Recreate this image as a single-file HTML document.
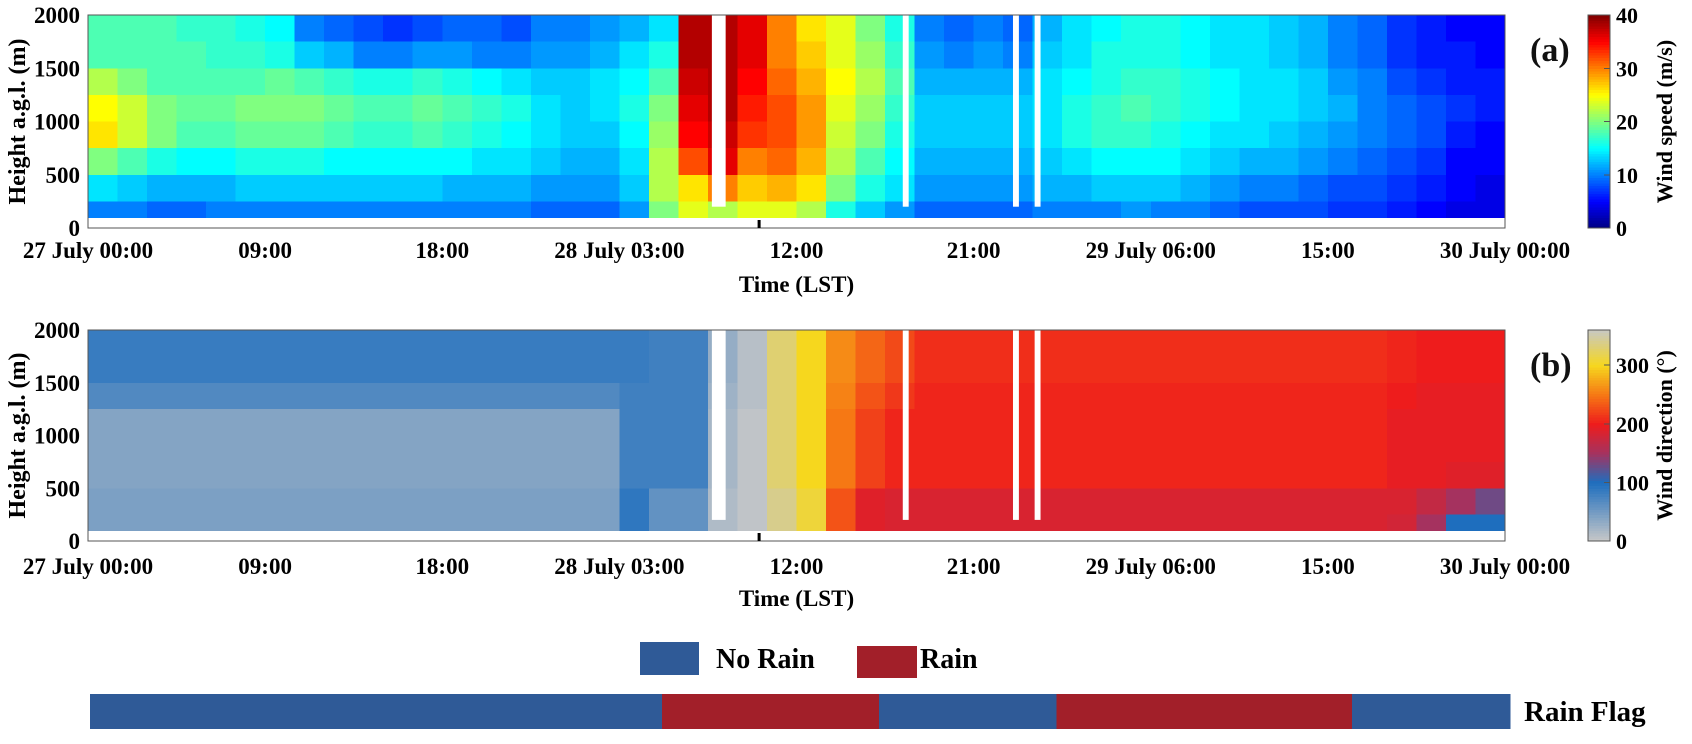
<!DOCTYPE html>
<html><head><meta charset="utf-8"><style>
body{margin:0;background:#fff;}
svg{display:block;font-family:"Liberation Serif",serif;font-weight:bold;}
</style></head><body>
<svg id="fig" width="1692" height="744" viewBox="0 0 1692 744"></svg>
<script>
const hours=[0,1.5,3,4.5,6,7.5,9,10.5,12,13.5,15,16.5,18,19.5,21,22.5,24,25.5,27,28.5,30,31.5,33,34.5,36,37.5,39,40.5,42,43.5,45,46.5,48,49.5,51,52.5,54,55.5,57,58.5,60,61.5,63,64.5,66,67.5,69,70.5];
const heights=[1875,1625,1375,1125,875,625,375,125];
const speed1875=[18,18,18,17,17,16,15,10,9,8,7,8,9,9,8,10,10,11,12,14,38,38,36,30,26,24,20,16,10,9,10,9,12,14,15,16,16,15,14,14,13,12,10,9,7,6,5,5];
const speed1625=[18,18,18,18,17,17,16,13,12,10,10,11,11,10,10,11,11,12,14,16,38,38,36,30,27,24,21,17,11,10,11,10,13,14,16,16,16,15,14,14,13,12,10,9,7,6,6,5];
const speed1375=[22,20,18,18,18,18,19,18,17,16,16,17,16,15,14,13,13,14,15,18,37,38,35,31,28,25,22,18,12,12,12,12,14,15,16,17,17,16,15,14,14,13,11,10,8,7,6,6];
const speed1125=[25,23,20,19,19,20,20,20,19,18,18,19,18,17,16,14,13,14,16,20,36,38,34,32,29,24,21,17,13,13,13,13,14,16,17,18,17,16,15,14,14,13,12,10,9,8,7,6];
const speed875=[26,23,20,18,18,19,19,19,18,17,17,18,17,16,15,14,13,13,15,21,35,37,33,32,29,23,20,16,13,13,13,13,14,16,17,17,16,15,14,14,13,12,11,10,9,8,6,5];
const speed625=[20,18,16,15,15,16,16,16,15,15,15,15,15,14,14,13,12,12,14,22,32,36,30,31,28,22,18,15,12,12,12,12,13,14,15,15,15,14,13,12,12,11,10,9,8,7,5,5];
const speed375=[14,13,12,12,12,13,13,13,13,13,13,13,12,12,12,11,11,11,13,22,26,30,27,28,26,20,16,14,11,11,11,11,12,12,13,13,13,12,11,10,10,9,8,8,7,6,5,4];
const speed125=[10,10,9,9,10,10,10,10,10,10,10,10,10,10,10,9,9,9,11,20,24,22,24,24,22,16,13,11,9,9,9,9,10,10,10,11,10,10,9,8,8,8,7,7,6,5,4,4];
const dir1875=[85,85,85,85,85,85,85,85,85,85,85,85,85,85,85,85,85,85,85,80,80,30,10,330,300,260,240,225,210,210,210,210,210,210,210,210,210,210,210,210,210,210,210,210,205,200,200,200];
const dir1625=[85,85,85,85,85,85,85,85,85,85,85,85,85,85,85,85,85,85,85,80,80,30,10,330,300,260,240,225,210,210,210,210,210,210,210,210,210,210,210,210,210,210,210,210,205,200,200,200];
const dir1375=[70,70,70,70,70,70,70,70,70,70,70,70,70,70,70,70,70,70,80,80,80,25,10,330,300,255,230,215,205,205,205,205,205,205,205,205,205,205,205,205,205,205,205,205,200,195,195,195];
const dir1125=[40,40,40,40,40,40,40,40,40,40,40,40,40,40,40,40,40,40,80,80,80,20,5,330,300,250,220,205,205,205,205,205,205,205,205,205,205,205,205,205,205,205,205,205,195,195,195,195];
const dir875=[40,40,40,40,40,40,40,40,40,40,40,40,40,40,40,40,40,40,80,80,80,20,5,330,300,250,220,205,205,205,205,205,205,205,205,205,205,205,205,205,205,205,205,205,195,195,195,195];
const dir625=[40,40,40,40,40,40,40,40,40,40,40,40,40,40,40,40,40,40,80,80,80,20,5,330,300,250,220,205,205,205,205,205,205,205,205,205,205,205,205,205,205,205,205,205,195,195,190,190];
const dir375=[45,45,45,45,45,45,45,45,45,45,45,45,45,45,45,45,45,45,90,60,60,15,5,340,310,230,190,185,185,185,185,185,185,185,185,185,185,185,185,185,185,185,185,185,185,170,150,130];
const dir125=[45,45,45,45,45,45,45,45,45,45,45,45,45,45,45,45,45,45,90,60,60,15,5,340,310,230,190,185,185,185,185,185,185,185,185,185,185,185,185,185,185,185,185,185,180,150,100,100];
const gapStart=[31.7,41.4,47.0,48.1];
const gapEnd=[32.4,41.7,47.3,48.4];
const timeTicks=[0,9,18,27,36,45,54,63,72];
const timeLabels=["27 July 00:00","09:00","18:00","28 July 03:00","12:00","21:00","29 July 06:00","15:00","30 July 00:00"];
const hTicks=[0,500,1000,1500,2000];
const speedTicks=[0,10,20,30,40];
const dirTicks=[0,100,200,300];
const rainStart=[0,29.0,40.0,49.0,64.0];
const rainEnd=[29.0,40.0,49.0,64.0,72];
const rainFlag=[0,1,0,1,0];

const speedRows=[speed1875,speed1625,speed1375,speed1125,speed875,speed625,speed375,speed125];
const dirRows=[dir1875,dir1625,dir1375,dir1125,dir875,dir625,dir375,dir125];
const NS="http://www.w3.org/2000/svg";
const svg=document.getElementById('fig');
function mk(tag,attrs,parent){const e=document.createElementNS(NS,tag);for(const k in attrs)e.setAttribute(k,attrs[k]);(parent||svg).appendChild(e);return e;}
const X0=88,X1=1505;
function xs(h){return X0+(h/72)*(X1-X0);}
function jet(v){const t=Math.max(0,Math.min(1,v/40));
 const r=Math.max(0,Math.min(1,1.5-Math.abs(4*t-3)));const g=Math.max(0,Math.min(1,1.5-Math.abs(4*t-2)));const b=Math.max(0,Math.min(1,1.5-Math.abs(4*t-1)));
 return `rgb(${Math.round(r*255)},${Math.round(g*255)},${Math.round(b*255)})`;}
const dStops=[[0,[200,200,200]],[100,[30,110,190]],[150,[165,50,95]],[200,[238,28,28]],[250,[246,120,20]],[300,[246,215,30]],[360,[200,200,195]]];
function dcol(v){v=((v%360)+360)%360;for(let i=0;i<dStops.length-1;i++){const a=dStops[i],b=dStops[i+1];if(v<=b[0]){const t=(v-a[0])/(b[0]-a[0]);return `rgb(${a[1].map((c,j)=>Math.round(c+(b[1][j]-c)*t)).join(',')})`;}}return 'rgb(200,200,195)';}

function panel(name,top,bot,rows,colf,cbTicks,cbMax,cbLabel,tag,labelY,titleY){
 const g=mk('g',{});
 
 
 const ys=h=>bot-(h/2000)*(bot-top);
 const hm=mk('g',{'shape-rendering':'crispEdges'},g);
 
 
 rows.forEach((row,ri)=>{const hc=heights[ri];const h0=Math.max(100,hc-125),h1=hc+125;
  row.forEach((v,ci)=>{const t0=hours[ci],t1=ci+1<hours.length?hours[ci+1]:72;
   const r=mk('rect',{x:xs(t0),y:ys(h1),width:xs(t1)-xs(t0)+0.6,height:ys(h0)-ys(h1)+0.6,fill:colf(v)},hm);
   
   });});
 gapStart.forEach((s,i)=>{const r=mk('rect',{x:xs(s),y:ys(2000),width:xs(gapEnd[i])-xs(s),height:ys(200)-ys(2000),fill:'#fff'},g);
  
  });
 mk('rect',{x:X0,y:top,width:X1-X0,height:bot-top,fill:'none',stroke:'#555','stroke-width':1},g);
 mk('rect',{x:xs(34.1)-1.5,y:bot-8,width:3,height:8,fill:'#000'},g);
 hTicks.forEach(h=>{const t=mk('text',{x:80,y:ys(h)+8,'text-anchor':'end','font-size':23},g);t.textContent=h;
  });
 const yt=mk('text',{transform:`translate(25,${(top+bot)/2}) rotate(-90)`,'text-anchor':'middle','font-size':24},g);
 yt.textContent='Height a.g.l. (m)';
 timeTicks.forEach((h,i)=>{const t=mk('text',{x:xs(h),y:labelY,'text-anchor':'middle','font-size':23},g);t.textContent=timeLabels[i];
  });
 const xt=mk('text',{x:(X0+X1)/2,y:titleY,'text-anchor':'middle','font-size':23},g);xt.textContent='Time (LST)';
 
 const cb=mk('g',{'shape-rendering':'crispEdges'},g);
 
 const n=80;for(let i=0;i<n;i++){const v=(i+0.5)/n*cbMax;const y0=bot-(i+1)/n*(bot-top);
  mk('rect',{x:1588,y:y0,width:22,height:(bot-top)/n+0.6,fill:colf(v)},cb);}
 mk('rect',{x:1588,y:top,width:22,height:bot-top,fill:'none',stroke:'#555'},cb);
 cbTicks.forEach(v=>{const y=bot-v/cbMax*(bot-top);mk('line',{x1:1604,x2:1610,y1:y,y2:y,stroke:'#555'},cb);
  const t=mk('text',{x:1616,y:y+8,'font-size':22},cb);t.textContent=v;});
 const cl=mk('text',{transform:`translate(1672,${(top+bot)/2}) rotate(-90)`,'text-anchor':'middle','font-size':22},g);
 cl.textContent=cbLabel;
 const pl=mk('text',{x:1530,y:top+46,'font-size':34,fill:'#111'},g);pl.textContent=tag;
 
}
panel('wind-speed-panel',15,228,speedRows,jet,speedTicks,40,'Wind speed (m/s)','(a)',258,292);
panel('wind-direction-panel',330,541,dirRows,dcol,dirTicks,360,'Wind direction (°)','(b)',574,606);

const lg=mk('g',{});


mk('rect',{x:640,y:642,width:59,height:33,fill:'#2f5a97'},lg);
let t=mk('text',{x:716,y:668,'font-size':28},lg);t.textContent='No Rain';
mk('rect',{x:857,y:646,width:60,height:32,fill:'#a21f29'},lg);
t=mk('text',{x:920,y:668,'font-size':28},lg);t.textContent='Rain';
const rf=mk('g',{'shape-rendering':'crispEdges'});


const RX0=90,RX1=1510;
rainStart.forEach((s,i)=>{const r=mk('rect',{x:RX0+s/72*(RX1-RX0),y:694,width:(rainEnd[i]-s)/72*(RX1-RX0)+0.5,height:35,fill:rainFlag[i]?'#a21f29':'#2f5a97'},rf);
 
 });
t=mk('text',{x:1524,y:721,'font-size':29},rf);t.textContent='Rain Flag';


</script>
</body></html>
